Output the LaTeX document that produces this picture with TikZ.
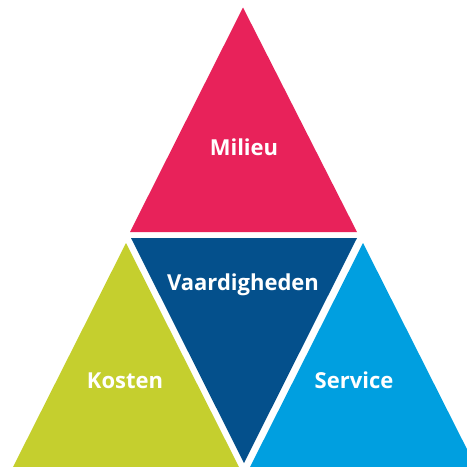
\documentclass[tikz,border=0pt]{standalone}
\usepackage{fontspec}
\setmainfont{Open Sans}
\definecolor{milieu}{HTML}{E8225A}
\definecolor{vaard}{HTML}{04508C}
\definecolor{kosten}{HTML}{C5CF2E}
\definecolor{service}{HTML}{009FE0}
\tikzset{label/.style={text=white,anchor=base,font=\bfseries\fontsize{22}{26}\selectfont}}
\begin{document}
\begin{tikzpicture}[x=1pt,y=-1pt]
    \useasboundingbox (0,0) rectangle (467,467);
    \clip (0,0) rectangle (467,467);
    % top
    \fill[milieu] (243,7.5) -- (357,232) -- (130,232) -- cycle;
    % middle, upside down
    \fill[vaard] (131,238) -- (357,238) -- (244,463) -- cycle;
    % left and right
    \fill[kosten] (126,243) -- (239,467) -- (13,467) -- cycle;
    \fill[service] (363,243) -- (476,467) -- (250,467) -- cycle;
    \node[label] at (244,155) (m) {Milieu};
    \node[label] at (243,290) (v) {Vaardigheden};
    \node[label] at (125,388) (k) {Kosten};
    \node[label] at (354,388) (s) {Service};
\end{tikzpicture}
\end{document}
